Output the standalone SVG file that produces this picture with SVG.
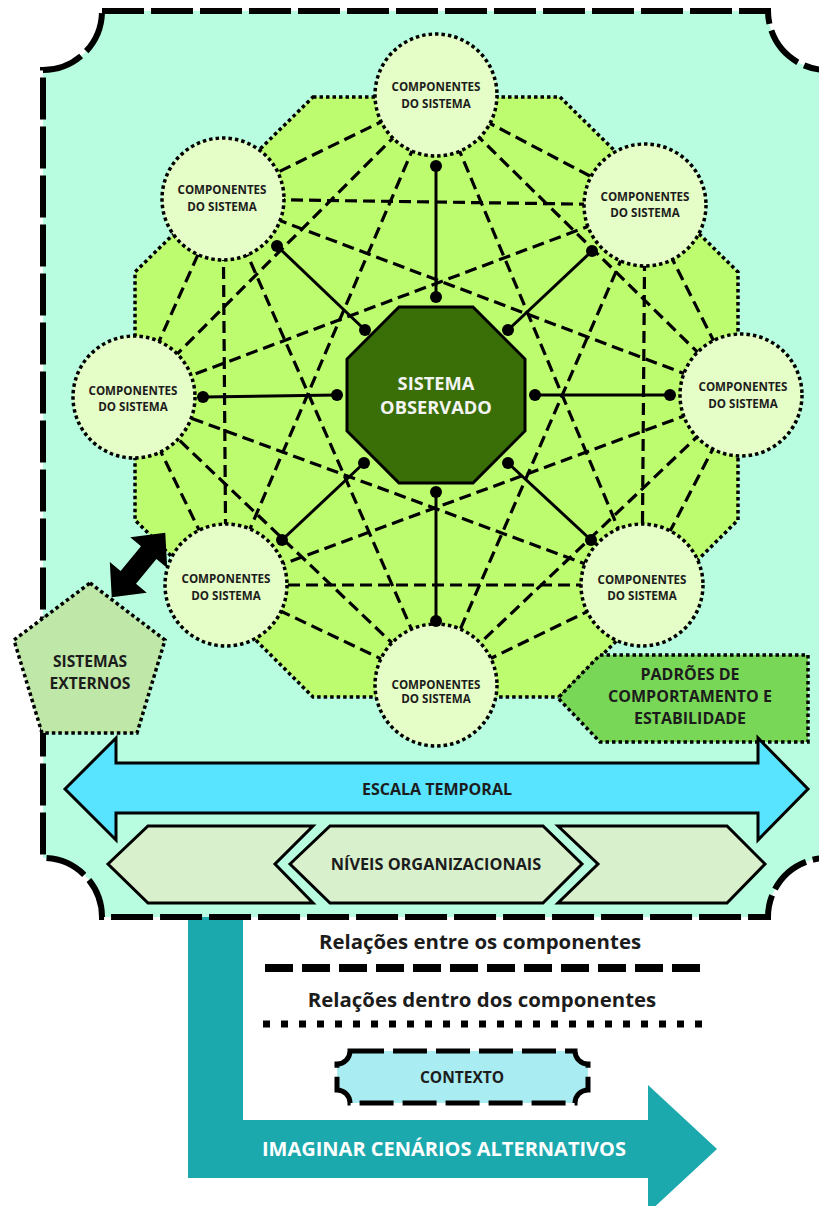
<svg xmlns="http://www.w3.org/2000/svg" width="819" height="1206" viewBox="0 0 819 1206">
  <defs>
    <style>
      .lbl { font-family: "Open Sans", "Noto Sans", "Liberation Sans", sans-serif; font-weight: 700; text-anchor: middle; fill: #1c1c1c; }
      .comp { font-size: 11.6px; }
      .dotted { stroke: #000; stroke-width: 3.5; stroke-dasharray: 3.5 3; }
      .rel { stroke: #000; stroke-width: 3.2; stroke-dasharray: 12 6; fill: none; }
      .spoke { stroke: #000; stroke-width: 3; fill: none; }
      .circle { fill: #e5fdc6; }
      .chev { fill: #d9f0cd; stroke: #000; stroke-width: 3; stroke-linejoin: miter; }
    </style>
  </defs>

  <!-- teal path running out of the frame -->
  <g id="imaginar">
    <polygon points="188,915 243,915 243,1120 648,1120 648,1085 717,1149 648,1213 648,1178 188,1178" fill="#1ba9ae"/>
    <text class="lbl" x="444" y="1156" font-size="20" style="fill:#ffffff">IMAGINAR CENÁRIOS ALTERNATIVOS</text>
  </g>

  <!-- context frame with scooped corners -->
  <g id="contexto-frame">
    <path d="M102,11 H768 A59,59 0 0 0 827,70 V858 A59,59 0 0 0 768,917 H102 A59,59 0 0 0 43,858 V70 A59,59 0 0 0 102,11 Z"
          fill="#b8fddf" stroke="#000" stroke-width="6" stroke-dasharray="42 7"/>
  </g>

  <!-- observed system boundary -->
  <g id="sistema-area">
    <polygon class="dotted" points="313,97 560,97 738,272 738,520 560,697 313,697 135,520 135,272" fill="#bdfc6f"/>
  </g>

  <!-- relations between components (dashed) and spokes (solid) -->
  <g id="connectors">
    <g class="rel">
      <!-- T -->
      <line x1="436" y1="95" x2="645" y2="205"/>
      <line x1="436" y1="95" x2="741" y2="395"/>
      <line x1="436" y1="95" x2="642" y2="585"/>
      <line x1="436" y1="95" x2="226" y2="585"/>
      <line x1="436" y1="95" x2="134" y2="397"/>
      <line x1="436" y1="95" x2="223" y2="199"/>
      <!-- TR -->
      <line x1="645" y1="205" x2="741" y2="395"/>
      <line x1="645" y1="205" x2="642" y2="585"/>
      <line x1="645" y1="205" x2="436" y2="685"/>
      <line x1="645" y1="205" x2="134" y2="397"/>
      <line x1="645" y1="205" x2="223" y2="199"/>
      <!-- R -->
      <line x1="741" y1="395" x2="642" y2="585"/>
      <line x1="741" y1="395" x2="436" y2="685"/>
      <line x1="741" y1="395" x2="226" y2="585"/>
      <line x1="741" y1="395" x2="223" y2="199"/>
      <!-- BR -->
      <line x1="642" y1="585" x2="436" y2="685"/>
      <line x1="642" y1="585" x2="226" y2="585"/>
      <line x1="642" y1="585" x2="134" y2="397"/>
      <!-- B -->
      <line x1="436" y1="685" x2="226" y2="585"/>
      <line x1="436" y1="685" x2="134" y2="397"/>
      <line x1="436" y1="685" x2="223" y2="199"/>
      <!-- BL -->
      <line x1="226" y1="585" x2="134" y2="397"/>
      <line x1="226" y1="585" x2="223" y2="199"/>
      <!-- L -->
      <line x1="134" y1="397" x2="223" y2="199"/>
    </g>
    <g class="spoke">
      <line x1="436" y1="166" x2="436" y2="297"/>
      <line x1="436" y1="492" x2="436" y2="621"/>
      <line x1="203" y1="397" x2="337" y2="395"/>
      <line x1="535" y1="395" x2="670" y2="395"/>
      <line x1="277" y1="246" x2="365" y2="330"/>
      <line x1="592" y1="251" x2="508" y2="330"/>
      <line x1="282" y1="540" x2="364" y2="463"/>
      <line x1="591" y1="540" x2="508" y2="463"/>
    </g>
  </g>

  <!-- observed system -->
  <g id="sistema-observado">
    <polygon points="399,307 473,307 525,359 525,431 473,483 399,483 347,431 347,359" fill="#3a6f08" stroke="#000" stroke-width="3"/>
    <text class="lbl" x="436" y="390" font-size="18.3" style="fill:#f4f4f4">SISTEMA</text>
    <text class="lbl" x="436" y="414" font-size="18.3" style="fill:#f4f4f4">OBSERVADO</text>
  </g>

  <!-- system components -->
  <g id="comp-t">
    <circle class="circle dotted" cx="436" cy="95" r="61"/>
    <text class="lbl comp" x="436" y="91">COMPONENTES</text>
    <text class="lbl comp" x="436" y="108">DO SISTEMA</text>
  </g>
  <g id="comp-tr">
    <circle class="circle dotted" cx="645" cy="205" r="61"/>
    <text class="lbl comp" x="645" y="201">COMPONENTES</text>
    <text class="lbl comp" x="645" y="217">DO SISTEMA</text>
  </g>
  <g id="comp-r">
    <circle class="circle dotted" cx="741" cy="395" r="61"/>
    <text class="lbl comp" x="743" y="391">COMPONENTES</text>
    <text class="lbl comp" x="743" y="408">DO SISTEMA</text>
  </g>
  <g id="comp-br">
    <circle class="circle dotted" cx="642" cy="585" r="61"/>
    <text class="lbl comp" x="642" y="584">COMPONENTES</text>
    <text class="lbl comp" x="642" y="600">DO SISTEMA</text>
  </g>
  <g id="comp-b">
    <circle class="circle dotted" cx="436" cy="685" r="61"/>
    <text class="lbl comp" x="436" y="689">COMPONENTES</text>
    <text class="lbl comp" x="436" y="703">DO SISTEMA</text>
  </g>
  <g id="comp-bl">
    <circle class="circle dotted" cx="226" cy="585" r="61"/>
    <text class="lbl comp" x="226" y="583">COMPONENTES</text>
    <text class="lbl comp" x="226" y="600">DO SISTEMA</text>
  </g>
  <g id="comp-l">
    <circle class="circle dotted" cx="134" cy="397" r="61"/>
    <text class="lbl comp" x="133" y="395">COMPONENTES</text>
    <text class="lbl comp" x="133" y="411">DO SISTEMA</text>
  </g>
  <g id="comp-tl">
    <circle class="circle dotted" cx="223" cy="199" r="61"/>
    <text class="lbl comp" x="222" y="194">COMPONENTES</text>
    <text class="lbl comp" x="222" y="211">DO SISTEMA</text>
  </g>

  <!-- spoke end dots -->
  <g id="spoke-dots" fill="#000">
    <circle cx="436" cy="166" r="6"/><circle cx="436" cy="297" r="6"/>
    <circle cx="436" cy="492" r="6"/><circle cx="436" cy="621" r="6"/>
    <circle cx="203" cy="397" r="6"/><circle cx="337" cy="395" r="6"/>
    <circle cx="535" cy="395" r="6"/><circle cx="670" cy="395" r="6"/>
    <circle cx="277" cy="246" r="6"/><circle cx="365" cy="330" r="6"/>
    <circle cx="592" cy="251" r="6"/><circle cx="508" cy="330" r="6"/>
    <circle cx="282" cy="540" r="6"/><circle cx="364" cy="463" r="6"/>
    <circle cx="591" cy="540" r="6"/><circle cx="508" cy="463" r="6"/>
  </g>

  <!-- exchange with external systems -->
  <g id="troca-externa">
    <polygon transform="translate(138.5,565) rotate(-50.4)" points="42,0 16,-24 16,-10 -16,-10 -16,-24 -42,0 -16,24 -16,10 16,10 16,24" fill="#000"/>
  </g>

  <g id="sistemas-externos">
    <polygon class="dotted" points="90,583 165,640 137,733 42,733 14,640" fill="#bfe7a7"/>
    <text class="lbl" x="90" y="667" font-size="15.6">SISTEMAS</text>
    <text class="lbl" x="90" y="689" font-size="15.6">EXTERNOS</text>
  </g>

  <g id="padroes">
    <polygon class="dotted" points="600,655 808,655 808,742 600,742 558,698" fill="#79d757"/>
    <text class="lbl" x="690" y="680" font-size="16">PADRÕES DE</text>
    <text class="lbl" x="690" y="702" font-size="16">COMPORTAMENTO E</text>
    <text class="lbl" x="690" y="724" font-size="16">ESTABILIDADE</text>
  </g>

  <g id="escala-temporal">
    <polygon points="65,789 116,738 116,763 758,763 758,738 808,789 758,840 758,813 116,813 116,840" fill="#58e3fe" stroke="#000" stroke-width="3" stroke-linejoin="miter"/>
    <text class="lbl" x="437" y="795" font-size="16">ESCALA TEMPORAL</text>
  </g>

  <g id="niveis-organizacionais">
    <polygon class="chev" points="108,864 148,826 313,826 275,864 313,903 148,903"/>
    <polygon class="chev" points="290,864 330,826 543,826 582,864 543,903 330,903"/>
    <polygon class="chev" points="558,826 727,826 765,864 727,903 558,903 598,864"/>
    <text class="lbl" x="436" y="870" font-size="16.3">NÍVEIS ORGANIZACIONAIS</text>
  </g>

  <!-- legend -->
  <g id="legenda">
    <text class="lbl" x="480" y="949" font-size="20.4">Relações entre os componentes</text>
    <line x1="265" y1="968" x2="702" y2="968" stroke="#000" stroke-width="8" stroke-dasharray="28 9"/>
    <text class="lbl" x="482" y="1007" font-size="20.4">Relações dentro dos componentes</text>
    <line x1="263" y1="1024" x2="702" y2="1024" stroke="#000" stroke-width="7" stroke-dasharray="7 11"/>
  </g>

  <g id="contexto">
    <path d="M350,1051 H575 A13,13 0 0 0 588,1064 V1090 A13,13 0 0 0 575,1103 H350 A13,13 0 0 0 337,1090 V1064 A13,13 0 0 0 350,1051 Z"
          fill="#a9ecf1" stroke="#000" stroke-width="5" stroke-dasharray="34 9"/>
    <text class="lbl" x="462" y="1083" font-size="15.5">CONTEXTO</text>
  </g>
</svg>
